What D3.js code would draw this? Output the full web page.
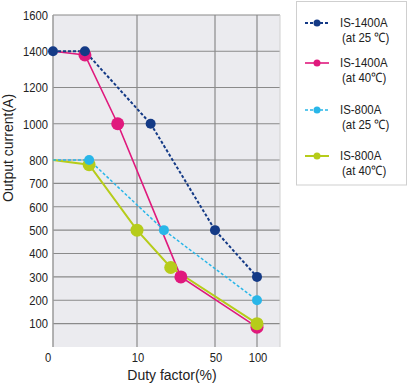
<!DOCTYPE html>
<html><head><meta charset="utf-8">
<script src="https://cdn.jsdelivr.net/npm/d3@7"></script>
<style>
body{margin:0;background:#fff;}
text{font-family:"Liberation Sans",Arial,sans-serif;fill:#222;}
</style></head>
<body>
<svg id="c" width="408" height="385"></svg>
<script>
// ---- data ----
const yTicks = [100,200,300,400,500,600,700,800,1000,1200,1400,1600];
const xTicks = [0,10,50,100];
const xGrid = [10,50,100];
const seriesNames = ["IS-1400A|(at 25 \u2103)","IS-1400A|(at 40\u2103)","IS-800A|(at 25 \u2103)","IS-800A|(at 40\u2103)"];
const s1400_25_x = [0,3.8,17,50,100];
const s1400_25_y = [1400,1400,1000,500,300];
const s1400_40_x = [0,3.8,7.7,32.5,100];
const s1400_40_y = [1400,1380,1000,300,85];
const s800_25_x = [0,4.3,23.8,100];
const s800_25_y = [800,800,500,200];
const s800_40_x = [0,4.3,10,27.3,100];
const s800_40_y = [800,780,500,340,100];

const svg = d3.select("#c");
const L=53, R=280, T=15, B=347;
const x = d3.scaleLinear().domain([0,10,50,100,127]).range([L,137,215,257,R]);
const y = d3.scaleLinear().domain([0,800,1600]).range([B,160,T]);

function ntext(g, tx, ty, str, anchor, sx, fs){
  return g.append("text").attr("transform",`translate(${tx},${ty}) scale(${sx},1)`)
    .attr("text-anchor",anchor).attr("dy","0.36em").attr("font-size",fs).text(str);
}

svg.append("rect").attr("x",L).attr("y",T).attr("width",R-L).attr("height",B-T).attr("fill","#ebebef");
// grid
svg.append("g").selectAll("line").data(yTicks).join("line")
  .attr("x1",L).attr("x2",R).attr("y1",d=>y(d)).attr("y2",d=>y(d))
  .attr("stroke","#8a8a8a").attr("stroke-width",1.2);
svg.append("g").selectAll("line").data(xGrid).join("line")
  .attr("x1",d=>x(d)).attr("x2",d=>x(d)).attr("y1",T).attr("y2",B)
  .attr("stroke","#8a8a8a").attr("stroke-width",1.2);
svg.append("line").attr("x1",L).attr("x2",L).attr("y1",T).attr("y2",B).attr("stroke","#9a9a9a").attr("stroke-width",1.5);
svg.append("line").attr("x1",R).attr("x2",R).attr("y1",T).attr("y2",B).attr("stroke","#d0d0d0").attr("stroke-width",1);

// axes labels
const gy = svg.append("g");
yTicks.forEach(d=>ntext(gy,48,y(d),d,"end",0.83,13.5));
const gx = svg.append("g");
xTicks.forEach(d=>ntext(gx,d===0?48:x(d)+1,357,d,"middle",0.83,13.5));
svg.append("text").attr("transform","translate(13,148) rotate(-90)").attr("text-anchor","middle")
  .attr("font-size",14).text("Output current(A)");
svg.append("text").attr("x",172).attr("y",380).attr("text-anchor","middle")
  .attr("font-size",14).text("Duty factor(%)");

const series = [
  {xs:s1400_40_x, ys:s1400_40_y, color:"#e0197d", dash:null, w:1.6, r:6.5, from:1},
  {xs:s800_40_x, ys:s800_40_y, color:"#b6cc1a", dash:null, w:2, r:6.5, from:1},
  {xs:s800_25_x, ys:s800_25_y, color:"#29b6e8", dash:"3,2", w:1.5, r:5, from:1},
  {xs:s1400_25_x, ys:s1400_25_y, color:"#143a86", dash:"3,2", w:2, r:5, from:0}
];
const line = d3.line().x(d=>x(d[0])).y(d=>y(d[1]));
series.forEach(s=>{
  const pts = s.xs.map((v,i)=>[v,s.ys[i]]);
  svg.append("path").attr("d",line(pts)).attr("fill","none").attr("stroke",s.color)
    .attr("stroke-width",s.w).attr("stroke-dasharray",s.dash);
});
series.forEach(s=>{
  const pts = s.xs.map((v,i)=>[v,s.ys[i]]).filter((p,i)=>i>=s.from);
  svg.append("g").selectAll("circle").data(pts).join("circle")
    .attr("cx",d=>x(d[0])).attr("cy",d=>y(d[1])).attr("r",s.r).attr("fill",s.color);
});

// legend
const lg = svg.append("g");
lg.append("rect").attr("x",296.5).attr("y",1.5).attr("width",110).attr("height",183.5)
  .attr("fill","#fff").attr("stroke","#cfcfcf");
const legOrder = [3,0,2,1];
const legY = [23,63,110,156];
legOrder.forEach((si,i)=>{
  const s = series[si];
  const yy = legY[i];
  lg.append("line").attr("x1",305).attr("x2",329).attr("y1",yy).attr("y2",yy)
    .attr("stroke",s.color).attr("stroke-width",s.w).attr("stroke-dasharray",s.dash);
  lg.append("circle").attr("cx",317).attr("cy",yy).attr("r",3.5).attr("fill",s.color);
  const parts = seriesNames[i].split("|");
  ntext(lg,340,yy-0.5,parts[0],"start",0.88,13);
  ntext(lg,342,yy+14.5,parts[1],"start",0.88,13);
});
</script>
</body></html>
